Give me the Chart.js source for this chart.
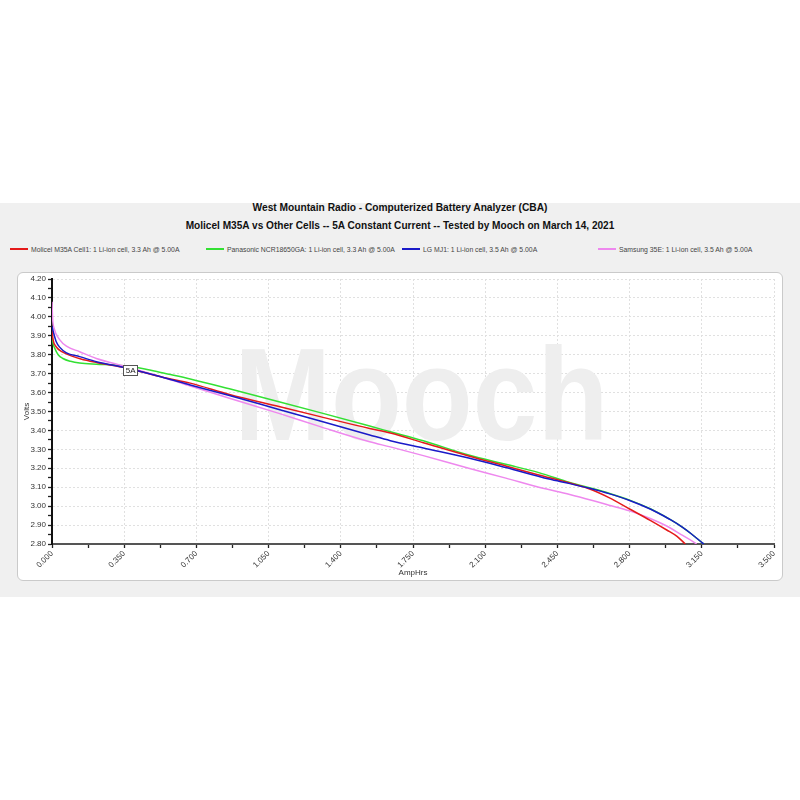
<!DOCTYPE html>
<html><head><meta charset="utf-8">
<script src="https://cdn.jsdelivr.net/npm/chart.js@4"></script>
<style>
html,body{margin:0;padding:0;background:#fff;width:800px;height:800px;overflow:hidden;font-family:"Liberation Sans",Arial,sans-serif;}
#band{position:absolute;left:0;top:203px;width:800px;height:394px;background:#f0f0f0;}
.t{position:absolute;left:0;width:800px;text-align:center;font-weight:bold;color:#111;white-space:nowrap;}
#t1{top:201px;font-size:10.2px;line-height:14px;}
#t2{top:218px;font-size:10.1px;line-height:16px;}
#legend{position:absolute;top:244px;left:0;height:12px;width:800px;}
.li{position:absolute;top:0;white-space:nowrap;font-size:6.85px;line-height:12px;color:#444;}
.sw{display:inline-block;width:18px;height:2px;vertical-align:middle;margin-right:3px;position:relative;top:-1px;}
#panel{position:absolute;left:17px;top:272px;width:766px;height:309px;background:#fff;border:1px solid #cacaca;border-radius:6px;box-sizing:border-box;}
#c{position:absolute;left:17px;top:272px;}
</style>
</head><body>
<div id="band"></div>
<div class="t" id="t1">West Mountain Radio - Computerized Battery Analyzer (CBA)</div>
<div class="t" id="t2">Molicel M35A vs Other Cells -- 5A Constant Current -- Tested by Mooch on March 14, 2021</div>
<div id="legend"></div>
<div id="panel"></div>
<canvas id="c" width="766" height="309"></canvas>
<script>
const seriesLabels = [
  "Molicel M35A Cell1: 1 Li-ion cell, 3.3 Ah @ 5.00A",
  "Panasonic NCR18650GA: 1 Li-ion cell, 3.3 Ah @ 5.00A",
  "LG MJ1: 1 Li-ion cell, 3.5 Ah @ 5.00A",
  "Samsung 35E: 1 Li-ion cell, 3.5 Ah @ 5.00A"
];
const molicelAh = [0, 0.005, 0.02, 0.05, 0.09, 0.14, 0.22, 0.36, 0.54, 0.67, 0.86, 1.1, 1.3, 1.54, 1.64, 1.8, 2.02, 2.2, 2.36, 2.51, 2.6, 2.7, 2.8, 2.9, 2.98, 3.03, 3.07];
const molicelV  = [3.93, 3.88, 3.842, 3.815, 3.795, 3.777, 3.758, 3.73, 3.68, 3.65, 3.59, 3.526, 3.473, 3.41, 3.386, 3.335, 3.265, 3.212, 3.165, 3.122, 3.093, 3.045, 2.985, 2.925, 2.874, 2.84, 2.80];
const panasonicAh = [0, 0.005, 0.013, 0.03, 0.053, 0.09, 0.134, 0.215, 0.3, 0.36, 0.45, 0.54, 0.67, 0.86, 1.1, 1.3, 1.54, 1.64, 1.8, 2.02, 2.2, 2.36, 2.51, 2.62, 2.7, 2.8, 2.9, 3.0, 3.057, 3.1, 3.154, 3.16];
const panasonicV  = [3.90, 3.86, 3.835, 3.80, 3.78, 3.765, 3.756, 3.75, 3.746, 3.74, 3.725, 3.703, 3.672, 3.62, 3.552, 3.494, 3.423, 3.393, 3.345, 3.27, 3.221, 3.177, 3.125, 3.093, 3.068, 3.032, 2.986, 2.927, 2.888, 2.853, 2.805, 2.80];
const lgAh = [0, 0.008, 0.02, 0.037, 0.07, 0.134, 0.215, 0.36, 0.54, 0.67, 0.86, 1.1, 1.3, 1.54, 1.64, 1.8, 2.02, 2.2, 2.41, 2.51, 2.606, 2.7, 2.8, 2.9, 2.945, 3.0, 3.057, 3.1, 3.154, 3.16];
const lgV  = [3.95, 3.914, 3.87, 3.84, 3.81, 3.79, 3.763, 3.73, 3.68, 3.64, 3.585, 3.511, 3.45, 3.376, 3.346, 3.307, 3.254, 3.204, 3.143, 3.119, 3.094, 3.066, 3.030, 2.985, 2.96, 2.927, 2.888, 2.853, 2.805, 2.80];
const samsungAh = [0, 0.003, 0.01, 0.037, 0.07, 0.134, 0.215, 0.36, 0.54, 0.67, 0.86, 1.1, 1.3, 1.54, 1.64, 1.8, 2.02, 2.2, 2.36, 2.51, 2.62, 2.7, 2.8, 2.9, 2.98, 3.05, 3.1, 3.125];
const samsungV  = [4.08, 3.99, 3.94, 3.88, 3.845, 3.816, 3.78, 3.737, 3.68, 3.635, 3.57, 3.49, 3.42, 3.34, 3.313, 3.267, 3.20, 3.148, 3.10, 3.062, 3.03, 3.005, 2.975, 2.935, 2.895, 2.85, 2.818, 2.80];
const seriesColors = ["#e41a1a", "#33e033", "#1a1ac8", "#ee88ee"];
const drawOrder = [2, 4, 1, 3];
const annotationText = "5A";
const annotationAt = [0.379, 3.719];
const watermarkText = "Mooch";

const FONT = '"Liberation Sans", Arial, sans-serif';
const pairs = [[molicelAh, molicelV], [panasonicAh, panasonicV], [lgAh, lgV], [samsungAh, samsungV]];
const datasets = pairs.map((p, i) => ({
  label: seriesLabels[i],
  data: p[0].map((x, k) => ({x: x, y: p[1][k]})),
  borderColor: seriesColors[i],
  backgroundColor: seriesColors[i],
  borderWidth: 1.5,
  pointRadius: 0,
  fill: false,
  cubicInterpolationMode: 'monotone',
  order: drawOrder[i]
}));

const lg = document.getElementById('legend');
datasets.forEach((d, i) => {
  const el = document.createElement('div');
  el.className = 'li';
  el.style.left = (10 + i * 196) + 'px';
  el.innerHTML = '<span class="sw" style="background:' + d.borderColor + '"></span>' + d.label;
  lg.appendChild(el);
});

const isMajor = (v, step) => Math.round(v / step) % 2 === 0;

const watermark = {
  id: 'wm',
  beforeDatasetsDraw(chart) {
    const {ctx, scales: {x, y}} = chart;
    ctx.save();
    ctx.translate(x.getPixelForValue(1.79), y.getPixelForValue(3.349));
    ctx.scale(0.88, 1);
    ctx.font = 'bold 132px ' + FONT;
    ctx.fillStyle = '#eeeeee';
    ctx.textAlign = 'center';
    ctx.textBaseline = 'alphabetic';
    ctx.fillText(watermarkText, 0, 0);
    ctx.restore();
  }
};
const annot = {
  id: 'annot',
  afterDatasetsDraw(chart) {
    const {ctx, scales: {x, y}} = chart;
    const px = x.getPixelForValue(annotationAt[0]), py = y.getPixelForValue(annotationAt[1]);
    ctx.save();
    ctx.font = '8px ' + FONT;
    const w = ctx.measureText(annotationText).width + 4, h = 10;
    ctx.fillStyle = '#fff';
    ctx.fillRect(px - w / 2, py - h / 2, w, h);
    ctx.strokeStyle = '#555';
    ctx.lineWidth = 1;
    ctx.strokeRect(Math.round(px - w / 2) + 0.5, Math.round(py - h / 2) + 0.5, Math.round(w), h);
    ctx.fillStyle = '#222';
    ctx.textAlign = 'center';
    ctx.textBaseline = 'middle';
    ctx.fillText(annotationText, px + 0.5, py + 1);
    ctx.restore();
  }
};

new Chart(document.getElementById('c'), {
  type: 'line',
  data: {datasets: datasets},
  plugins: [watermark, annot],
  options: {
    responsive: false,
    animation: false,
    devicePixelRatio: 1,
    layout: {padding: {left: 0, right: 9, top: 7, bottom: 0}},
    plugins: {legend: {display: false}, title: {display: false}, tooltip: {enabled: false}},
    scales: {
      x: {
        type: 'linear', min: 0, max: 3.5,
        ticks: {
          stepSize: 0.175, autoSkip: false, minRotation: 45, maxRotation: 45,
          font: {size: 8, family: FONT}, color: '#333', padding: 1,
          callback: v => isMajor(v, 0.175) ? Number(v).toFixed(3) : ''
        },
        grid: {
          color: c => (c.tick && isMajor(c.tick.value, 0.175)) ? '#e0e0e0' : 'rgba(0,0,0,0)',
          tickColor: '#222', tickLength: 4, lineWidth: 1, tickWidth: 1.3
        },
        border: {display: true, color: '#555', width: 2, dash: [2, 2]},
        title: {display: true, text: 'AmpHrs', font: {size: 8, family: FONT}, color: '#333', padding: {top: 0, bottom: 3}},
        afterFit: s => { s.height = 37; }
      },
      y: {
        type: 'linear', min: 2.8, max: 4.2,
        ticks: {
          stepSize: 0.05, autoSkip: false,
          font: {size: 8, family: FONT}, color: '#333', padding: 2,
          callback: v => isMajor(v, 0.05) ? Number(v).toFixed(2) : ''
        },
        grid: {
          color: c => (c.tick && isMajor(c.tick.value, 0.05)) ? '#e0e0e0' : 'rgba(0,0,0,0)',
          tickColor: '#222', tickLength: 4, lineWidth: 1, tickWidth: 1.3
        },
        border: {display: true, color: '#111', width: 2, dash: [2, 2]},
        title: {display: true, text: 'Volts', font: {size: 8, family: FONT}, color: '#333', padding: {top: 5, bottom: 0}},
        afterFit: s => { s.width = 35; }
      }
    }
  }
});
</script>
</body></html>
